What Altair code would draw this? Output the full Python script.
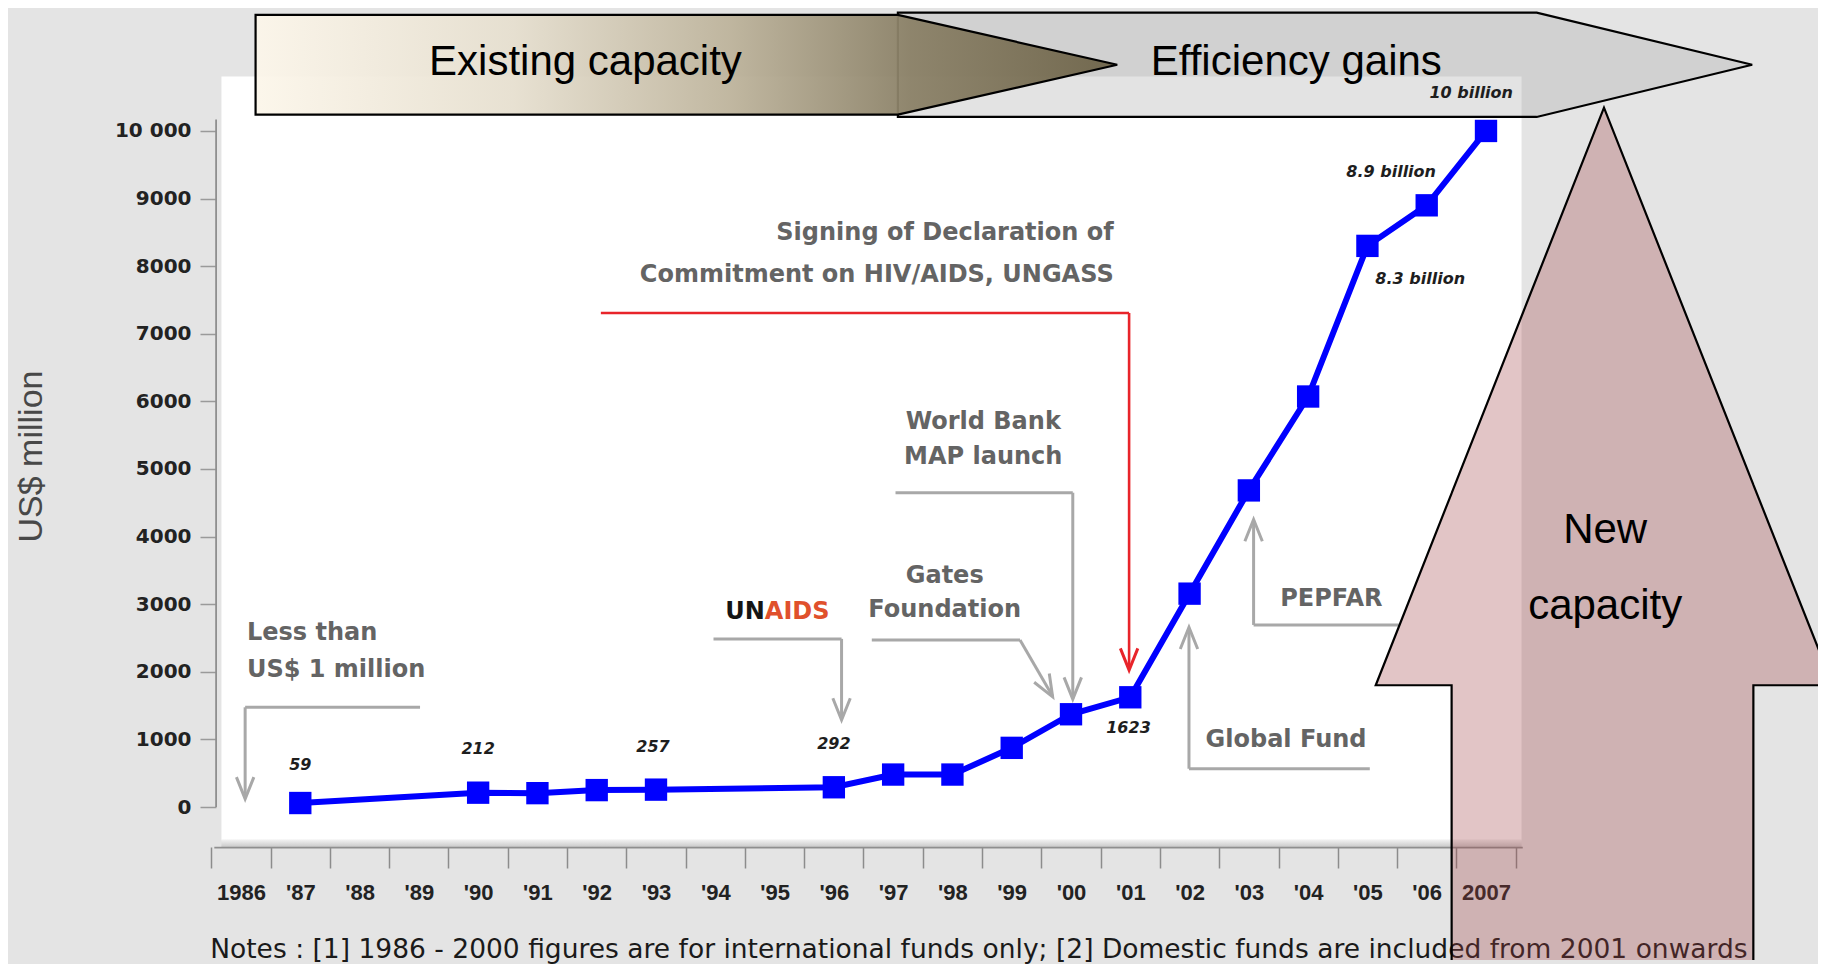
import altair as alt
import pandas as pd

# ---------------- data ----------------
years = [1987, 1990, 1991, 1992, 1993, 1996, 1997, 1998, 1999, 2000,
         2001, 2002, 2003, 2004, 2005, 2006, 2007]
funding = [59, 212, 205, 250, 257, 292, 480, 480, 875, 1372,
           1623, 3156, 4683, 6072, 8300, 8900, 10000]

value_labels = ["59", "212", "257", "292", "1623", "8.3 billion", "8.9 billion"]
value_label_year = [1987.0, 1990.0, 1992.95, 1996.0, 2000.97, 2005.89, 2005.40]
value_label_usd = [618, 858, 892, 926, 1166, 7805, 9400]

top_label = ["10 billion"]
top_label_year = [2006.75]
top_label_usd = [10567]

y_ticks = list(range(0, 10001, 1000))
x_ticks = list(range(1986, 2009))

note = ("Notes : [1] 1986 - 2000 figures are for international funds only;  "
        "[2] Domestic funds are included from 2001 onwards")

# annotation texts (anchored in year / US$ million units)
ann_text = ["Less than", "US$ 1 million", "Gates", "Foundation", "World Bank",
            "MAP launch", "Global Fund", "PEPFAR"]
ann_year = [1986.10, 1986.10, 1997.87, 1997.87, 1998.52, 1998.52, 2002.27, 2003.53]
ann_usd = [2573, 2024, 3414, 2916, 5695, 5180, 995, 3070]
ann_align = ["left", "left", "center", "center", "center", "center", "left", "left"]

ungass_text = ["Signing of Declaration of", "Commitment on HIV/AIDS, UNGASS"]
ungass_year = [2000.72, 2000.72]
ungass_usd = [8491, 7874]

# callout leader lines
gray_x = [1986.07, 1986.07, 1993.97, 1996.13, 1996.64, 1999.14, 1997.04, 2000.03, 2001.99, 2001.99, 2003.08, 2003.08]
gray_y = [1475, 1475, 2487, 2487, 2470, 2470, 4649, 4649, 566, 566, 2693, 2693]
gray_x2 = [1989.02, 1986.07, 1996.13, 1996.13, 1999.14, 1999.69, 2000.03, 2000.03, 2005.04, 2001.99, 2005.53, 2003.08]
gray_y2 = [1475, 130, 2487, 1300, 2470, 1640, 4649, 1605, 566, 2650, 2693, 4245]
head_x = [1986.07, 1996.13, 1999.69, 2000.03, 2001.99, 2003.08]
head_y = [120, 1287, 1630, 1595, 2659, 4254]
head_angle = [0, 0, 330, 0, 180, 180]

red_x = [1992.07, 2000.98]
red_y = [7308, 7308]
red_x2 = [2000.98, 2000.98]
red_y2 = [7308, 2040]
red_head_x = [2000.98]
red_head_y = [2024]

# overlay shapes (outline vertices in year / US$ million units)
existing_x = [1986.246, 1997.08, 2000.78]
existing_top = [11716, 11716, 10979]
existing_bot = [10241, 10241, 10979]
efficiency_x = [1997.08, 2007.855, 2011.49]
efficiency_top = [11750, 11750, 10979]
efficiency_bot = [10207, 10207, 10979]

pink_tip = (2008.99, 10344)
pink_barb_left = (2005.14, 1801)
pink_barb_right = (2012.85, 1801)
pink_shaft = (2006.42, 2011.51)
pink_bottom = -2400

# ---------------- scales & axes ----------------
XD = [1982.07, 2012.60]
YD = [-2263, 11804]

year_expr = ("datum.value == 2008 ? '' : (datum.value == 1986 || datum.value == 2007) ? "
             "toString(datum.value) : \"'\" + substring(toString(datum.value), 2, 4)")


def x_axis():
    return alt.Axis(values=x_ticks, offset=-113, domain=False, grid=False,
                    tickSize=21, tickWidth=1.5, tickColor="#8c8c8c",
                    tickOffset=-29.64, labelOffset=29.64, labelExpr=year_expr,
                    labelFont="Liberation Sans", labelFontWeight="bold", labelFontSize=22,
                    labelColor="#222222", labelPadding=14, labelOverlap=False,
                    labelFlush=False, title="")


def y_axis():
    return alt.Axis(values=y_ticks, offset=-208, domain=False, grid=False,
                    tickSize=16, tickWidth=1.5, tickColor="#9a9a9a",
                    labelExpr="datum.value == 10000 ? '10 000' : toString(datum.value)",
                    labelFont="DejaVu Sans", labelFontWeight="bold", labelFontSize=20,
                    labelColor="#222222", labelPadding=9, labelOverlap=False, labelFlush=False,
                    title="US$ million", titleFont="Liberation Sans", titleFontSize=34,
                    titleFontWeight="normal", titleColor="#484848", titleAngle=270,
                    titleX=-185, titleY=447, titleAlign="center", titleBaseline="middle")


def ex(f="x"):
    return alt.X(f"{f}:Q", scale=alt.Scale(domain=XD, nice=False, zero=False), axis=x_axis())


def ey(f="y"):
    return alt.Y(f"{f}:Q", scale=alt.Scale(domain=YD, nice=False, zero=False), axis=y_axis())


# ---------------- layers ----------------
panel = alt.Chart(pd.DataFrame({"x": [1985.67], "x2": [2007.60], "y": [-483], "y2": [10807]})
                  ).mark_rect(color="white").encode(x=ex(), x2="x2:Q", y=ey(), y2="y2:Q")

shadow = alt.Chart(pd.DataFrame({"x": [1985.67], "x2": [2007.60], "y": [-483], "y2": [-600]})
                   ).mark_rect(fill={"gradient": "linear", "x1": 0, "y1": 0, "x2": 0, "y2": 1,
                                     "stops": [{"offset": 0, "color": "#f2f2f2"},
                                               {"offset": 1, "color": "#c6c6c6"}]}
                               ).encode(x=ex(), x2="x2:Q", y=ey(), y2="y2:Q")

axis_lines = alt.Chart(pd.DataFrame({"x": [1985.55, 1985.58], "x2": [2007.62, 1985.58],
                                     "y": [-600, 0], "y2": [-600, 10170]})
                       ).mark_rule(color="#8f8f8f", strokeWidth=1.8).encode(
    x=ex(), x2="x2:Q", y=ey(), y2="y2:Q")

gray_rules = alt.Chart(pd.DataFrame({"x": gray_x, "y": gray_y, "x2": gray_x2, "y2": gray_y2})
                       ).mark_rule(color="#a8a8a8", strokeWidth=3).encode(
    x=ex(), x2="x2:Q", y=ey(), y2="y2:Q")

arrow_shape = "M-0.4,-1L0,0L0.4,-1"
gray_heads = alt.Chart(pd.DataFrame({"x": head_x, "y": head_y, "a": head_angle})
                       ).mark_point(shape=arrow_shape, filled=False, size=1900, strokeWidth=3,
                                    color="#a8a8a8", opacity=1).encode(
    x=ex(), y=ey(), angle=alt.Angle("a:Q", scale=None))

red_rules = alt.Chart(pd.DataFrame({"x": red_x, "y": red_y, "x2": red_x2, "y2": red_y2})
                      ).mark_rule(color="#e8242a", strokeWidth=2.6).encode(
    x=ex(), x2="x2:Q", y=ey(), y2="y2:Q")

red_heads = alt.Chart(pd.DataFrame({"x": red_head_x, "y": red_head_y})
                      ).mark_point(shape=arrow_shape, filled=False, size=1900, strokeWidth=3,
                                   color="#e8242a", opacity=1).encode(x=ex(), y=ey())

ann_font = dict(font="DejaVu Sans", fontWeight="bold", fontSize=24, color="#646464",
                baseline="middle")
ann_layers = []
for al in ["left", "center"]:
    sub = pd.DataFrame({"x": ann_year, "y": ann_usd, "t": ann_text, "al": ann_align})
    sub = sub[sub["al"] == al]
    ann_layers.append(alt.Chart(sub).mark_text(align=al, **ann_font).encode(
        x=ex(), y=ey(), text="t:N"))

ungass = alt.Chart(pd.DataFrame({"x": ungass_year, "y": ungass_usd, "t": ungass_text})
                   ).mark_text(align="right", **ann_font).encode(x=ex(), y=ey(), text="t:N")

un_split_year = 1994.836
unaids_un = alt.Chart(pd.DataFrame({"x": [un_split_year], "y": [2882], "t": ["UN"]})
                      ).mark_text(align="right", font="DejaVu Sans", fontWeight="bold",
                                  fontSize=24, color="#151515", baseline="middle"
                                  ).encode(x=ex(), y=ey(), text="t:N")
unaids_aids = alt.Chart(pd.DataFrame({"x": [un_split_year], "y": [2882], "t": ["AIDS"]})
                        ).mark_text(align="left", font="DejaVu Sans", fontWeight="bold",
                                    fontSize=24, color="#e0502c", baseline="middle"
                                    ).encode(x=ex(), y=ey(), text="t:N")

series = pd.DataFrame({"year": years, "usd": funding})
line = alt.Chart(series).mark_line(color="#0000ff", strokeWidth=6).encode(
    x=ex("year"), y=ey("usd"))
squares = alt.Chart(series).mark_point(shape="square", filled=True, size=500, color="#0000ff",
                                       opacity=1).encode(x=ex("year"), y=ey("usd"))

val_font = dict(font="DejaVu Sans", fontWeight="bold", fontStyle="italic", fontSize=16,
                color="#1e1e1e", baseline="middle", align="center")
val_labels = alt.Chart(pd.DataFrame({"x": value_label_year, "y": value_label_usd,
                                     "t": value_labels})
                       ).mark_text(**val_font).encode(x=ex(), y=ey(), text="t:N")

efficiency = alt.Chart(pd.DataFrame({"x": efficiency_x, "y": efficiency_top,
                                     "y2": efficiency_bot})
                       ).mark_area(orient="vertical", fill="#b0b0b0", fillOpacity=0.35,
                                   stroke="black", strokeWidth=2.2, strokeOpacity=1).encode(
    x=ex(), y=ey(), y2="y2:Q")

existing_fill = {"gradient": "linear", "x1": 0, "y1": 0, "x2": 1, "y2": 0,
                 "stops": [{"offset": 0, "color": "#fcf6ea"},
                           {"offset": 0.3, "color": "#e6dfcf"},
                           {"offset": 0.55, "color": "#bdb39b"},
                           {"offset": 0.76, "color": "#8a8066"},
                           {"offset": 1, "color": "#6c6247"}]}
existing = alt.Chart(pd.DataFrame({"x": existing_x, "y": existing_top, "y2": existing_bot})
                     ).mark_area(orient="vertical", fill=existing_fill, fillOpacity=0.94,
                                 stroke="black", strokeWidth=2.2, strokeOpacity=1).encode(
    x=ex(), y=ey(), y2="y2:Q")

big_font = dict(font="Liberation Sans", fontSize=42, color="#000000", baseline="middle",
                align="center")
arrow_texts = alt.Chart(pd.DataFrame({"x": [1991.81, 2003.80], "y": [11013, 11013],
                                      "t": ["Existing capacity", "Efficiency gains"]})
                        ).mark_text(**big_font).encode(x=ex(), y=ey(), text="t:N")

top_val = alt.Chart(pd.DataFrame({"x": top_label_year, "y": top_label_usd, "t": top_label})
                    ).mark_text(**val_font).encode(x=ex(), y=ey(), text="t:N")

notes = alt.Chart(pd.DataFrame({"x": [1985.48], "y": [-2240], "t": [note]})
                  ).mark_text(font="DejaVu Sans", fontSize=26.5, color="#1a1a1a",
                              align="left", baseline="alphabetic").encode(
    x=ex(), y=ey(), text="t:N")


def edge(p, q, x):
    return p[1] + (x - p[0]) / (q[0] - p[0]) * (q[1] - p[1])


sl, sr = pink_shaft
top_l = edge(pink_barb_left, pink_tip, sl)
top_r = edge(pink_tip, pink_barb_right, sr)
eps = 0.0005
pink_df = pd.DataFrame({
    "x": [pink_barb_left[0], sl, sl + eps, pink_tip[0], sr - eps, sr, pink_barb_right[0]],
    "y": [pink_barb_left[1], top_l, top_l, pink_tip[1], top_r, top_r, pink_barb_right[1]],
    "y2": [pink_barb_left[1], pink_barb_left[1], pink_bottom, pink_bottom, pink_bottom,
           pink_barb_right[1], pink_barb_right[1]],
})
pink = alt.Chart(pink_df).mark_area(orient="vertical", fill="#9e3e41", fillOpacity=0.3,
                                    stroke="black", strokeWidth=2.2, strokeOpacity=1,
                                    clip=True).encode(x=ex(), y=ey(), y2="y2:Q")

new_cap = alt.Chart(pd.DataFrame({"x": [2009.01, 2009.01], "y": [4100, 2968],
                                  "t": ["New", "capacity"]})
                    ).mark_text(**big_font).encode(x=ex(), y=ey(), text="t:N")

chart = alt.layer(
    panel, shadow, axis_lines, gray_rules, gray_heads, red_rules, red_heads,
    *ann_layers, ungass, unaids_un, unaids_aids,
    line, squares, val_labels,
    efficiency, existing, arrow_texts, top_val,
    notes, pink, new_cap,
).properties(
    width=1810, height=956,
    autosize=alt.AutoSizeParams(type="fit", contains="padding"),
    padding=0,
).configure(background="#e4e4e4").configure_view(stroke="transparent")

chart.save("out.html", embed_options={"renderer": "svg", "actions": False})
